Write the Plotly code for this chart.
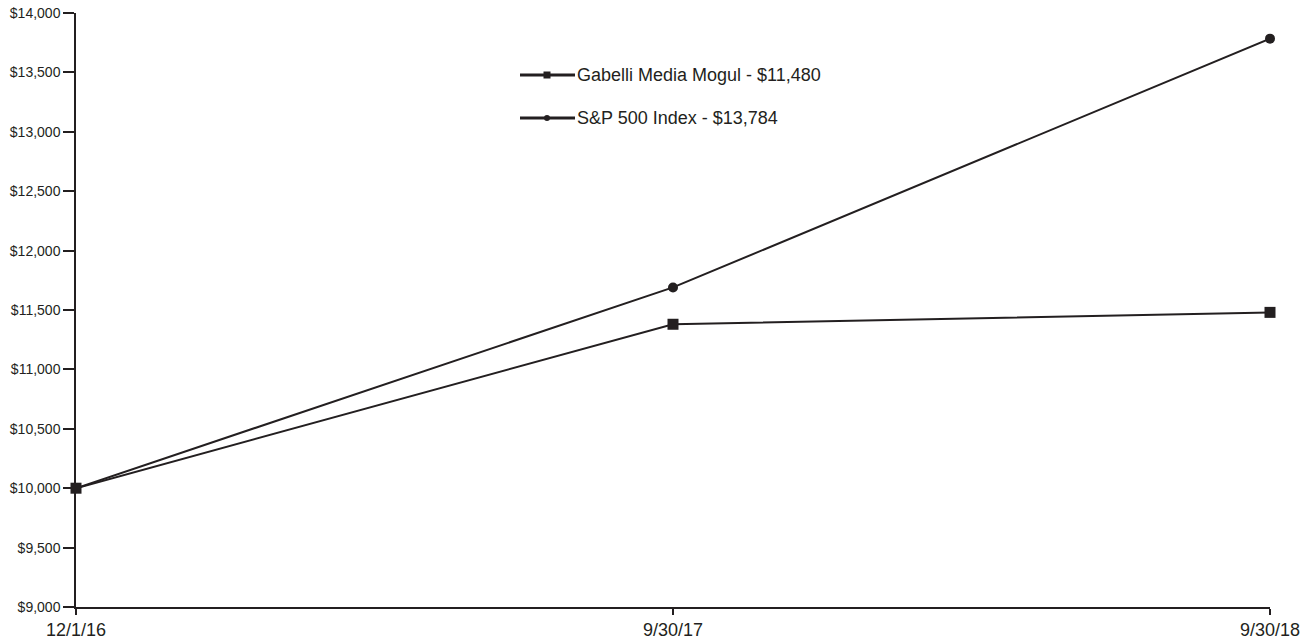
import plotly.graph_objects as go

dates = ["12/1/16", "9/30/17", "9/30/18"]
gabelli = [10000, 11380, 11480]
sp500 = [10000, 11690, 13784]
y_ticks = [9000, 9500, 10000, 10500, 11000, 11500, 12000, 12500, 13000, 13500, 14000]
y_tick_labels = ["$" + format(v, ",") for v in y_ticks]
legend_names = ["Gabelli Media Mogul - $11,480", "S&P 500 Index - $13,784"]

INK = "#231f20"
FONT = "Liberation Sans, Arial, sans-serif"

W, H = 1316, 639
L, R, T, B = 76, 46, 13, 32
pw, ph = W - L - R, H - T - B

x_idx = list(range(len(dates)))

fig = go.Figure()
fig.add_trace(go.Scatter(x=x_idx, y=sp500, mode="lines+markers",
                         line=dict(color=INK, width=2),
                         marker=dict(symbol="circle", size=10, color=INK),
                         cliponaxis=False, showlegend=False, name=legend_names[1]))
fig.add_trace(go.Scatter(x=x_idx, y=gabelli, mode="lines+markers",
                         line=dict(color=INK, width=2),
                         marker=dict(symbol="square", size=11, color=INK),
                         cliponaxis=False, showlegend=False, name=legend_names[0]))

def px_to_paper(px, py):
    return (px - L) / pw, (H - B - py) / ph

shapes = []
annotations = []
legend_rows = [(75, "square"), (118, "circle")]
for (ly, sym), name in zip(legend_rows, legend_names):
    x0, y0 = px_to_paper(520, ly)
    x1, _ = px_to_paper(575, ly)
    shapes.append(dict(type="line", xref="paper", yref="paper", x0=x0, x1=x1, y0=y0, y1=y0,
                       line=dict(color=INK, width=3)))
    cx = 547
    r = 3.5 if sym == "square" else 3
    a0, b0 = px_to_paper(cx - r, ly + r)
    a1, b1 = px_to_paper(cx + r, ly - r)
    shapes.append(dict(type="rect" if sym == "square" else "circle", xref="paper", yref="paper",
                       x0=a0, x1=a1, y0=b0, y1=b1, fillcolor=INK, line=dict(color=INK, width=0)))
    tx, ty = px_to_paper(575, ly)
    annotations.append(dict(text=name, xref="paper", yref="paper", x=tx, y=ty,
                            xanchor="left", yanchor="middle", showarrow=False,
                            font=dict(family=FONT, size=18, color=INK)))

fig.update_layout(
    width=W, height=H,
    margin=dict(l=L, r=R, t=T, b=B, autoexpand=False),
    paper_bgcolor="white", plot_bgcolor="white",
    shapes=shapes, annotations=annotations,
    xaxis=dict(range=[0, 2], tickmode="array", tickvals=x_idx, ticktext=dates, automargin=False,
               showgrid=False, zeroline=False, showline=True, linecolor=INK, linewidth=1.5,
               ticks="outside", ticklen=6, tickcolor=INK, tickwidth=1.5,
               tickfont=dict(family=FONT, size=18, color=INK)),
    yaxis=dict(range=[9000, 14000], tickmode="array", tickvals=y_ticks, ticktext=y_tick_labels,
               automargin=False,
               showgrid=False, zeroline=False, showline=True, linecolor=INK, linewidth=1.5,
               ticks="outside", ticklen=11, tickcolor=INK, tickwidth=1.5,
               tickfont=dict(family=FONT, size=14, color=INK)),
)

fig.write_html("out.html")
